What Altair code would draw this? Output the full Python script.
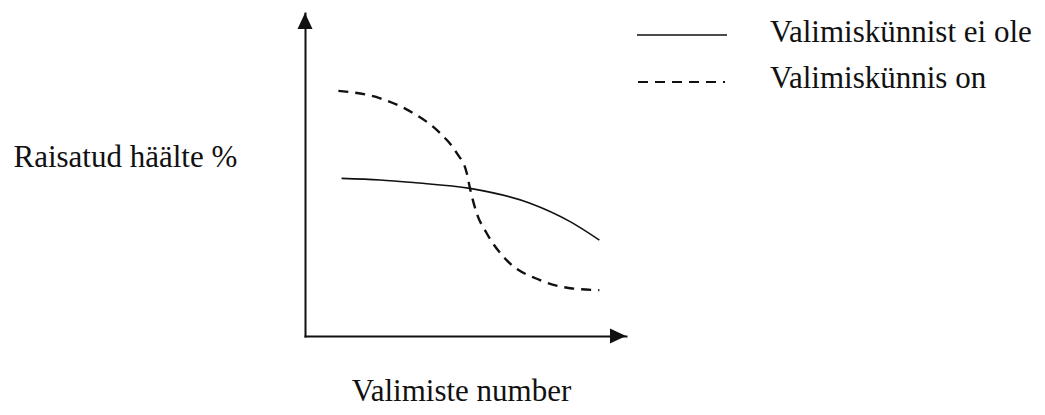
import altair as alt
import pandas as pd

# ---- data (abstract units 0..100 on both axes) ----
series_names = ["Valimiskünnist ei ole", "Valimiskünnis on"]

x_solid = [11.4, 23.4, 33.7, 51.4, 70.1, 82.6, 91.7]
y_solid = [48.8, 48.3, 47.5, 45.7, 41.1, 35.4, 29.7]

x_dashed = [10.4, 23.4, 33.7, 42.1, 47.3, 50.4, 51.4, 53.5, 56.6, 62.8, 73.2, 82.6, 91.7]
y_dashed = [75.9, 73.6, 69.0, 62.8, 56.6, 50.4, 45.7, 38.0, 31.8, 23.5, 17.3, 14.8, 14.2]

x_title = "Valimiste number"
y_title = "Raisatud häälte %"

rows = []
for i, (xv, yv) in enumerate(zip(x_solid, y_solid)):
    rows.append({"series": series_names[0], "order": i, "x": xv, "y": yv})
for i, (xv, yv) in enumerate(zip(x_dashed, y_dashed)):
    rows.append({"series": series_names[1], "order": i, "x": xv, "y": yv})
df = pd.DataFrame(rows)
legend_df = pd.DataFrame({"series": series_names})

# ---- layout / style ----
W, H = 321, 323
FONT = "Liberation Serif"
FS = 31
INK = "#111111"
DASH = [10, 7]

x_enc = alt.X("x:Q", scale=alt.Scale(domain=[0, 100], nice=False, zero=False),
              axis=alt.Axis(title=x_title, labels=False, ticks=False, grid=False,
                            domain=True, domainColor=INK, domainWidth=2, domainCap="square",
                            titleFont=FONT, titleFontSize=FS, titleFontWeight="normal",
                            titleColor=INK, titleX=156, titleY=64,
                            titleAlign="center", titleBaseline="alphabetic"))
y_enc = alt.Y("y:Q", scale=alt.Scale(domain=[0, 100], nice=False, zero=False),
              axis=alt.Axis(title=y_title, labels=False, ticks=False, grid=False,
                            domain=True, domainColor=INK, domainWidth=2, domainCap="square",
                            titleFont=FONT, titleFontSize=FS, titleFontWeight="normal",
                            titleColor=INK, titleAngle=0, titleX=-292, titleY=153,
                            titleAlign="left", titleBaseline="alphabetic"))

solid = alt.Chart(df).transform_filter(
    alt.datum.series == series_names[0]
).mark_line(interpolate="monotone", color=INK, strokeWidth=1.6).encode(
    x=x_enc, y=y_enc, order="order:Q"
)

dashed = alt.Chart(df).transform_filter(
    alt.datum.series == series_names[1]
).mark_line(interpolate="monotone", color=INK, strokeWidth=2.4, strokeDash=DASH).encode(
    x=alt.X("x:Q"), y=alt.Y("y:Q"), order="order:Q"
)

one = alt.Data(values=[{"k": 1}])
arrow_up = alt.Chart(one).mark_point(
    shape="M0,0L-0.94,2L0.94,2Z", size=256, filled=True, fill=INK, opacity=1, strokeWidth=0
).encode(x=alt.value(0), y=alt.value(0))
arrow_right = alt.Chart(one).mark_point(
    shape="M0,0L-2,-0.94L-2,0.94Z", size=256, filled=True, fill=INK, opacity=1, strokeWidth=0
).encode(x=alt.value(W), y=alt.value(H))

# legend (manual)
leg1_rule = alt.Chart(legend_df).transform_filter(
    alt.datum.series == series_names[0]
).mark_rule(color=INK, strokeWidth=1.6).encode(
    x=alt.value(332), x2=alt.value(422), y=alt.value(22)
)
leg2_rule = alt.Chart(legend_df).transform_filter(
    alt.datum.series == series_names[1]
).mark_rule(color=INK, strokeWidth=2.2, strokeDash=DASH).encode(
    x=alt.value(333), x2=alt.value(420), y=alt.value(69)
)
leg1_text = alt.Chart(legend_df).transform_filter(
    alt.datum.series == series_names[0]
).mark_text(font=FONT, fontSize=FS, color=INK, align="left", baseline="alphabetic").encode(
    x=alt.value(465), y=alt.value(29), text="series:N"
)
leg2_text = alt.Chart(legend_df).transform_filter(
    alt.datum.series == series_names[1]
).mark_text(font=FONT, fontSize=FS, color=INK, align="left", baseline="alphabetic").encode(
    x=alt.value(465), y=alt.value(75), text="series:N"
)

chart = alt.layer(
    solid, dashed, arrow_up, arrow_right, leg1_rule, leg2_rule, leg1_text, leg2_text
).properties(
    width=W, height=H,
    padding={"left": 297, "top": 5, "right": 411, "bottom": 71},
    autosize=alt.AutoSizeParams(type="none"),
    background="white",
).configure_view(stroke=None)

chart.save("out.html", embed_options={"renderer": "svg", "actions": False})
